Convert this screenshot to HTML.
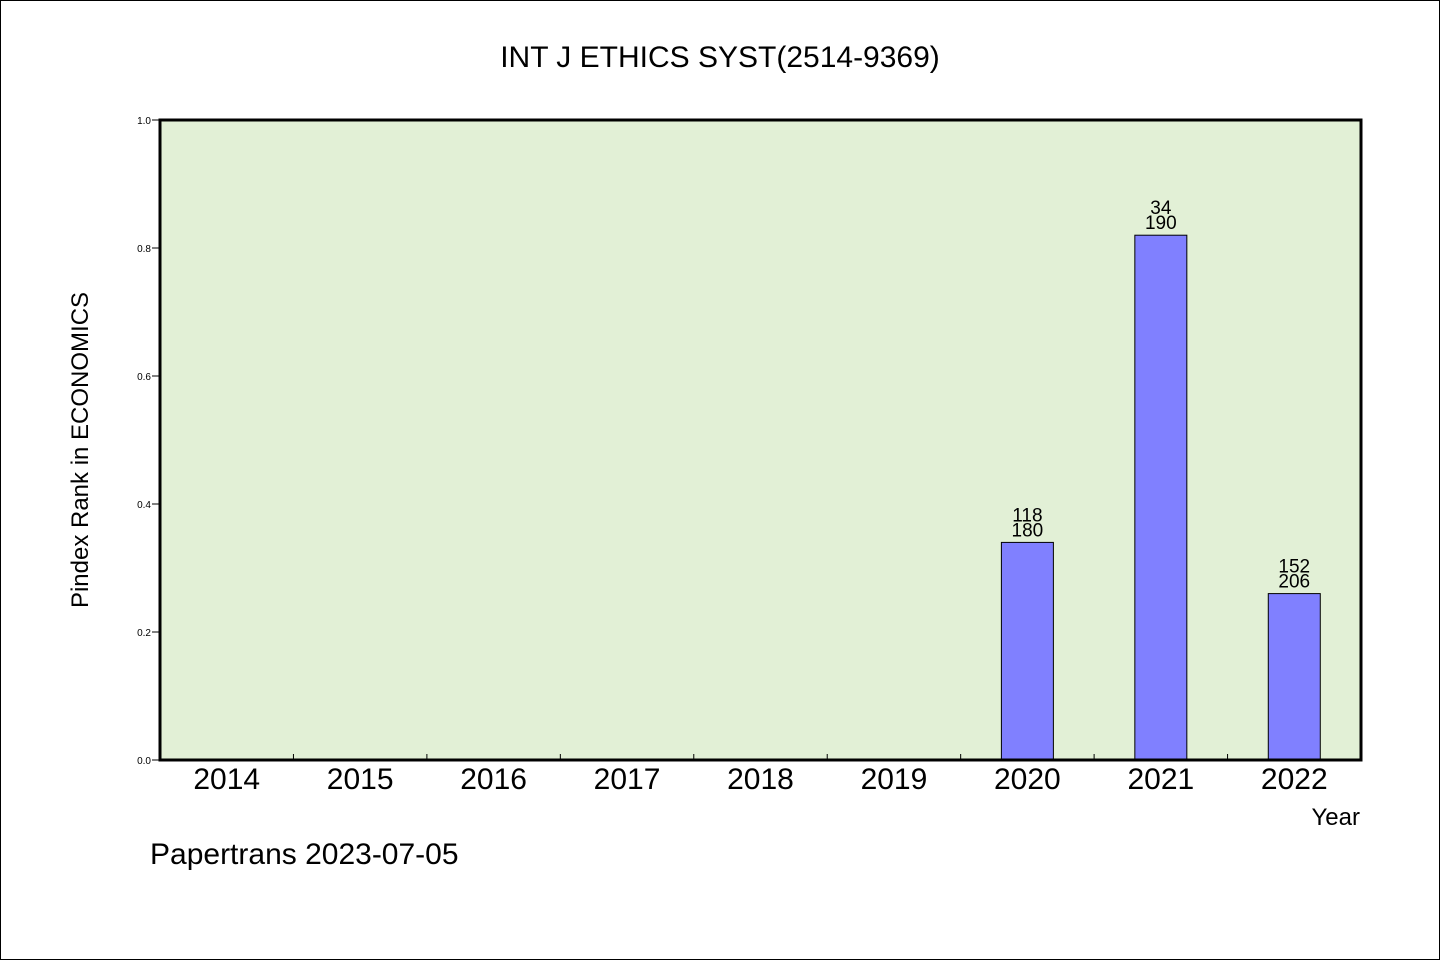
<!DOCTYPE html>
<html><head><meta charset="utf-8"><style>body{margin:0;background:#fff}svg{display:block}</style></head>
<body>
<svg width="1440" height="960" xmlns="http://www.w3.org/2000/svg">
<rect x="0.5" y="0.5" width="1439" height="959" fill="#fff" stroke="#000"/>
<text x="720" y="67" text-anchor="middle" font-family="'WenQuanYi Zen Hei','Liberation Sans',sans-serif" font-size="30">INT J ETHICS SYST(2514-9369)</text>
<rect x="160" y="120" width="1201" height="640" fill="#e2f0d6"/>
<g id="yaxis"></g>
<g id="xaxis"></g>
<g id="bars"></g>
<rect x="160" y="120" width="1201" height="640" fill="none" stroke="#000" stroke-width="3"/>
<text transform="translate(88,450) rotate(-90)" text-anchor="middle" font-family="'WenQuanYi Zen Hei','Liberation Sans',sans-serif" font-size="24">Pindex Rank in ECONOMICS</text>
<text x="1360" y="825" text-anchor="end" font-family="'WenQuanYi Zen Hei','Liberation Sans',sans-serif" font-size="24">Year</text>
<text x="150" y="864" font-family="'WenQuanYi Zen Hei','Liberation Sans',sans-serif" font-size="30">Papertrans 2023-07-05</text>
</svg>
<script>
const categories=["2014","2015","2016","2017","2018","2019","2020","2021","2022"];
const values=[null,null,null,null,null,null,0.34,0.82,0.26];
const labelTop=["","","","","","","118","34","152"];
const labelBottom=["","","","","","","180","190","206"];
const yTicks=[0,0.2,0.4,0.6,0.8,1.0];
const NS="http://www.w3.org/2000/svg";
const x0=160,x1=1361,y0=760,y1=120;
const slot=(x1-x0)/categories.length;
const xc=i=>x0+slot*(i+0.5);
const ys=v=>y0-(v)*(y0-y1);
function mk(t,a,p){const e=document.createElementNS(NS,t);for(const k in a)e.setAttribute(k,a[k]);p.appendChild(e);return e;}
const ya=document.getElementById('yaxis'),xa=document.getElementById('xaxis'),bg=document.getElementById('bars');
yTicks.forEach(v=>{
 const l=mk('line',{x1:152,x2:160,y1:ys(v),y2:ys(v),stroke:'#000'},ya);
 
 
 const t=mk('text',{x:151,y:ys(v)+4,'text-anchor':'end','font-family':'Liberation Sans,sans-serif','font-size':10},ya);
 t.textContent=v.toFixed(1);
 
 
});
categories.forEach((c,i)=>{
 if(i>0){const l=mk('line',{x1:x0+slot*i,x2:x0+slot*i,y1:y0,y2:y0-6,stroke:'#000'},xa);
 
 }
 const t=mk('text',{x:xc(i),y:789,'text-anchor':'middle','font-family':"'WenQuanYi Zen Hei','Liberation Sans',sans-serif",'font-size':30},xa);
 t.textContent=c;
 
 
 const v=values[i];
 if(v!=null){
  const w=52;
  const r=mk('rect',{x:xc(i)-w/2,y:ys(v),width:w,height:y0-ys(v),fill:'#8080ff',stroke:'#000'},bg);
  
  
  const a=mk('text',{x:xc(i),y:ys(v)-21,'text-anchor':'middle','font-family':"'WenQuanYi Zen Hei','Liberation Sans',sans-serif",'font-size':19},bg);
  a.textContent=labelTop[i];
  
  
  const b=mk('text',{x:xc(i),y:ys(v)-6,'text-anchor':'middle','font-family':"'WenQuanYi Zen Hei','Liberation Sans',sans-serif",'font-size':19},bg);
  b.textContent=labelBottom[i];
  
  
 }
});
</script>
</body></html>
